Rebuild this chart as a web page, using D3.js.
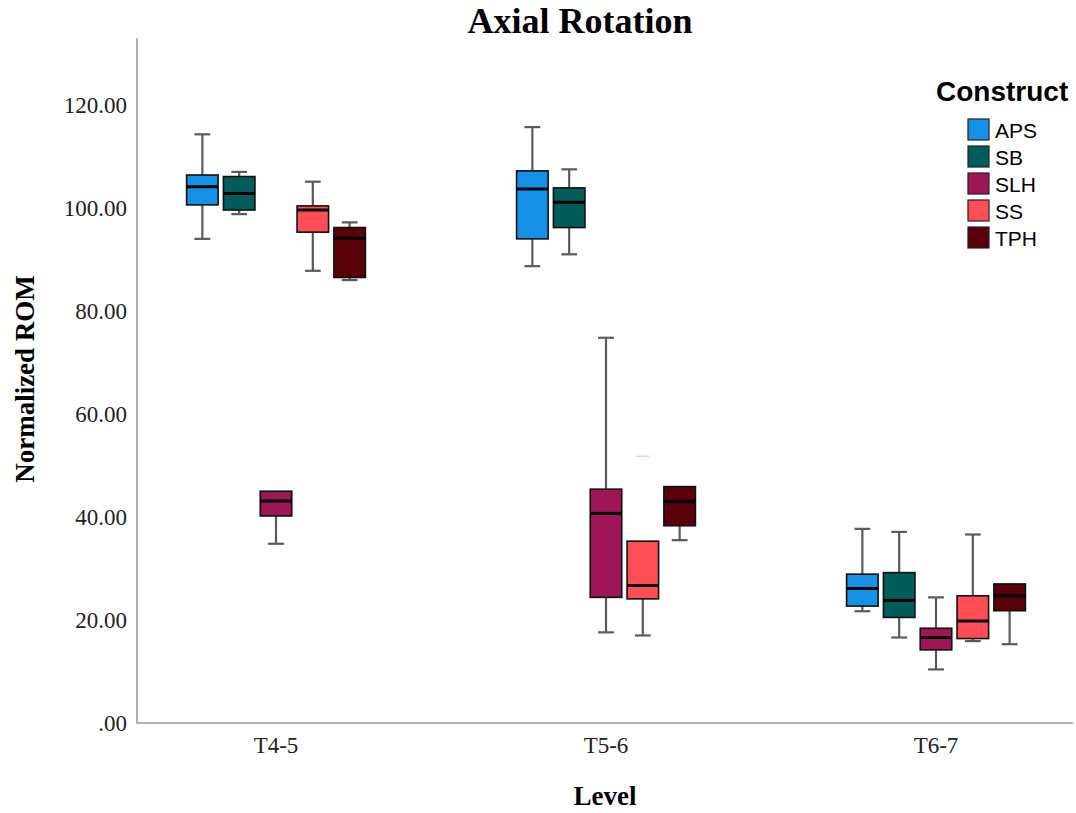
<!DOCTYPE html>
<html>
<head>
<meta charset="utf-8">
<script src="https://cdn.jsdelivr.net/npm/d3@7"></script>
<style>
  body { margin: 0; background: #fff; }
  .serif { font-family: "Liberation Serif", "Times New Roman", serif; }
  .sans { font-family: "Liberation Sans", Arial, sans-serif; }
</style>
</head>
<body>
<div id="chart"></div>
<script>
var levels = ["T4-5", "T5-6", "T6-7"];
var constructs = ["APS", "SB", "SLH", "SS", "TPH"];
var colors = ["#1791e6", "#015c5a", "#9f1657", "#ff4e56", "#5a0008"];
var yTicks = [0, 20, 40, 60, 80, 100, 120];

// per level: [low whisker, q1, median, q3, high whisker]
var APS = [[94.0, 100.6, 104.1, 106.4, 114.3], [88.7, 94.0, 103.7, 107.2, 115.7], [21.7, 22.7, 26.1, 28.9, 37.7]];
var SB  = [[98.8, 99.6, 102.8, 106.1, 107.0], [91.0, 96.2, 101.1, 103.9, 107.5], [16.6, 20.5, 23.8, 29.2, 37.1]];
var SLH = [[34.8, 40.2, 43.1, 45.0, 45.0], [17.6, 24.4, 40.7, 45.4, 74.8], [10.4, 14.2, 16.6, 18.4, 24.4]];
var SS  = [[87.8, 95.3, 99.6, 100.4, 105.1], [17.0, 24.1, 26.7, 35.3, 35.3], [15.9, 16.4, 19.8, 24.7, 36.6]];
var TPH = [[86.0, 86.5, 94.1, 96.2, 97.2], [35.5, 38.3, 43.0, 45.9, 45.9], [15.3, 21.8, 24.7, 27.0, 27.0]];
var outliers = [{ level: "T5-6", construct: "SS", value: 51.8 }];

var stats = { APS: APS, SB: SB, SLH: SLH, SS: SS, TPH: TPH };

var width = 1076, height = 813;

var svg = d3.select("#chart").append("svg")
  .attr("width", width)
  .attr("height", height);

var x = d3.scaleBand().domain(levels).range([111, 1101]);
var xc = d3.scaleBand().domain(constructs).range([-89.4, 89.4]).paddingInner(0.144);
var y = d3.scaleLinear().domain([0, 133]).range([723, 38]);
var color = d3.scaleOrdinal().domain(constructs).range(colors);

var fmt = function (d) { return d === 0 ? ".00" : d3.format(".2f")(d); };

// axes
var yAxis = svg.append("g")
  .attr("transform", "translate(137,0)")
  .call(d3.axisLeft(y).tickValues(yTicks).tickSize(0).tickPadding(10).tickFormat(fmt));
yAxis.select(".domain").remove();
yAxis.selectAll("text").attr("font-size", 23).attr("fill", "#222")
  .attr("font-family", "Liberation Serif, Times New Roman, serif");

var xAxis = svg.append("g")
  .attr("transform", "translate(0,723)")
  .call(d3.axisBottom(x).tickSize(0).tickPadding(14));
xAxis.select(".domain").remove();
xAxis.selectAll("text").attr("font-size", 23).attr("fill", "#222")
  .attr("font-family", "Liberation Serif, Times New Roman, serif");

svg.append("path")
  .attr("d", "M137," + y.range()[1] + "V" + y(0) + "H1073")
  .attr("fill", "none")
  .attr("stroke", "#999")
  .attr("stroke-width", 1.5);

// boxes
var boxes = [];
levels.forEach(function (lv, i) {
  constructs.forEach(function (c) {
    var s = stats[c][i];
    boxes.push({ level: lv, construct: c, lo: s[0], q1: s[1], med: s[2], q3: s[3], hi: s[4] });
  });
});

var bw = xc.bandwidth();
var g = svg.append("g").selectAll("g")
  .data(boxes)
  .join("g")
  .attr("transform", function (d) {
    return "translate(" + (x(d.level) + x.bandwidth() / 2 + xc(d.construct)) + ",0)";
  });

g.append("line")
  .attr("x1", bw / 2).attr("x2", bw / 2)
  .attr("y1", function (d) { return y(d.hi); })
  .attr("y2", function (d) { return y(d.lo); })
  .attr("stroke", "#5a5a5a").attr("stroke-width", 2.2);

g.filter(function (d) { return d.hi > d.q3; }).append("line")
  .attr("x1", bw / 4).attr("x2", bw * 3 / 4)
  .attr("y1", function (d) { return y(d.hi); })
  .attr("y2", function (d) { return y(d.hi); })
  .attr("stroke", "#5a5a5a").attr("stroke-width", 2.2);

g.filter(function (d) { return d.lo < d.q1; }).append("line")
  .attr("x1", bw / 4).attr("x2", bw * 3 / 4)
  .attr("y1", function (d) { return y(d.lo); })
  .attr("y2", function (d) { return y(d.lo); })
  .attr("stroke", "#5a5a5a").attr("stroke-width", 2.2);

g.append("rect")
  .attr("x", 0)
  .attr("width", bw)
  .attr("y", function (d) { return y(d.q3); })
  .attr("height", function (d) { return y(d.q1) - y(d.q3); })
  .attr("fill", function (d) { return color(d.construct); })
  .attr("stroke", "#111")
  .attr("stroke-width", 1.6);

g.append("line")
  .attr("x1", 0).attr("x2", bw)
  .attr("y1", function (d) { return y(d.med); })
  .attr("y2", function (d) { return y(d.med); })
  .attr("stroke", "#000").attr("stroke-width", 3);

// faint outlier mark
svg.append("g").selectAll("line")
  .data(outliers)
  .join("line")
  .attr("x1", function (d) { return x(d.level) + x.bandwidth() / 2 + xc(d.construct) + bw * 0.3; })
  .attr("x2", function (d) { return x(d.level) + x.bandwidth() / 2 + xc(d.construct) + bw * 0.7; })
  .attr("y1", function (d) { return y(d.value); })
  .attr("y2", function (d) { return y(d.value); })
  .attr("stroke", "#ffb3b8").attr("stroke-width", 1);

// titles
svg.append("text")
  .attr("class", "serif")
  .attr("x", 580).attr("y", 33)
  .attr("text-anchor", "middle")
  .attr("font-size", 36).attr("font-weight", "bold")
  .text("Axial Rotation");

svg.append("text")
  .attr("class", "serif")
  .attr("transform", "translate(25,379) rotate(-90)")
  .attr("text-anchor", "middle")
  .attr("dominant-baseline", "central")
  .attr("font-size", 27).attr("font-weight", "bold")
  .text("Normalized ROM");

svg.append("text")
  .attr("class", "serif")
  .attr("x", 605).attr("y", 805)
  .attr("text-anchor", "middle")
  .attr("font-size", 27).attr("font-weight", "bold")
  .text("Level");

// legend
var legend = svg.append("g").attr("class", "sans");
legend.append("text")
  .attr("x", 936).attr("y", 101)
  .attr("font-size", 28).attr("font-weight", "bold")
  .text("Construct");

var item = legend.selectAll("g.item")
  .data(constructs)
  .join("g")
  .attr("class", "item")
  .attr("transform", function (d, i) { return "translate(968," + (119 + i * 27) + ")"; });

item.append("rect")
  .attr("width", 21).attr("height", 21)
  .attr("fill", function (d) { return color(d); })
  .attr("stroke", "#222").attr("stroke-width", 1.2);

item.append("text")
  .attr("x", 27).attr("y", 11)
  .attr("dominant-baseline", "central")
  .attr("font-size", 21)
  .text(function (d) { return d; });
</script>
</body>
</html>
